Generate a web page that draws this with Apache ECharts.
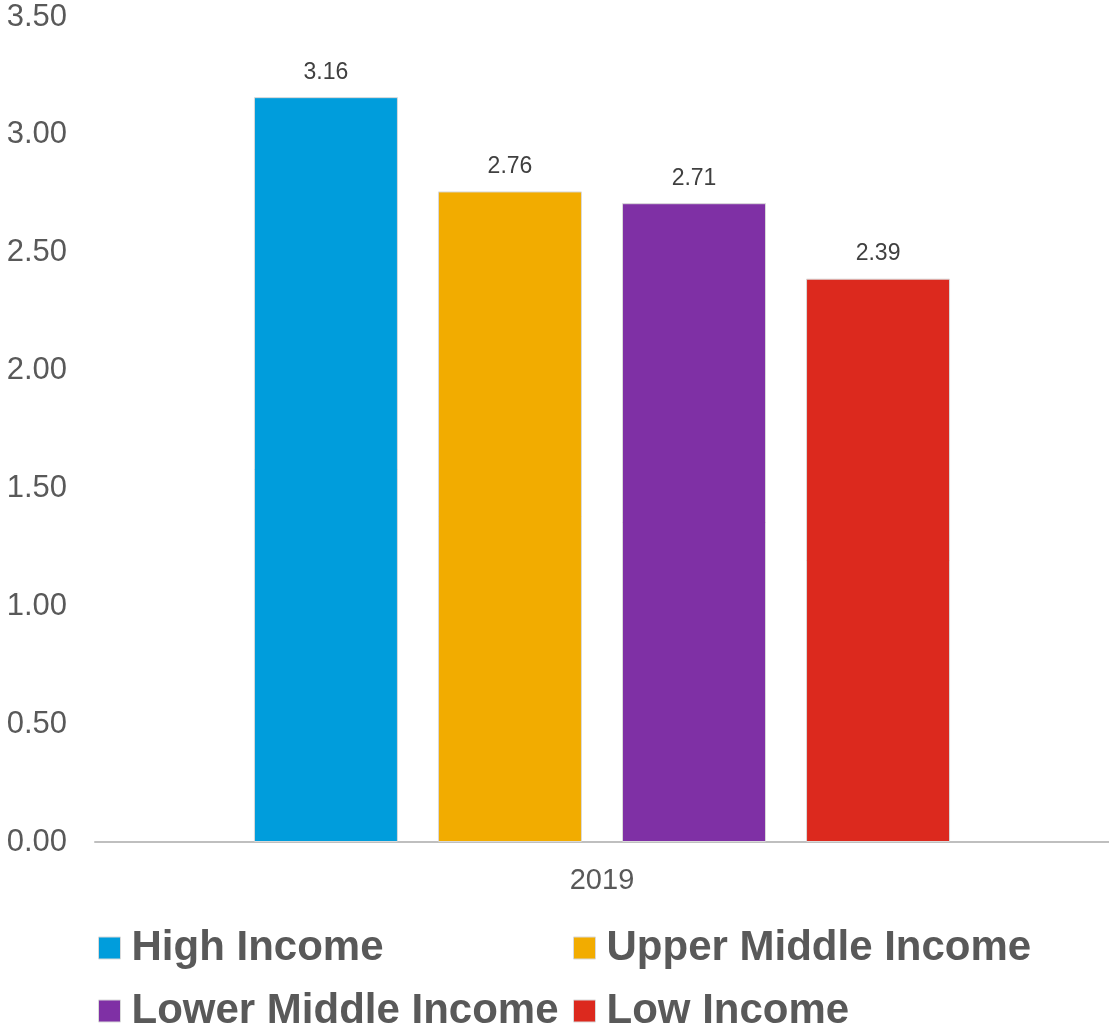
<!DOCTYPE html>
<html><head><meta charset="utf-8">
<script src="https://cdn.jsdelivr.net/npm/echarts@6/dist/echarts.min.js"></script>
<style>html,body{margin:0;padding:0;background:#fff}#c{width:1109px;height:1029px}</style>
</head><body><div id="c"></div>
<script>
const categories = ['2019'];
const seriesNames = ['High Income', 'Upper Middle Income', 'Lower Middle Income', 'Low Income'];
const highIncome = [3.16];
const upperMiddleIncome = [2.76];
const lowerMiddleIncome = [2.71];
const lowIncome = [2.39];
const yTicks = { min: 0, max: 3.5, interval: 0.5 };

const colors = ['#009ddc', '#f2ac00', '#7f30a5', '#dc291e'];
const values = [highIncome, upperMiddleIncome, lowerMiddleIncome, lowIncome];
const font = '"Liberation Sans", Arial, sans-serif';

const chart = echarts.init(document.getElementById('c'), null, {renderer: 'canvas'});
const legendPos = [[98, 927], [573, 927], [98, 990], [573, 990]];
chart.setOption({
  animation: false,
  color: colors,
  grid: { left: 95, right: 0, top: 17, bottom: 187, containLabel: false },
  legend: seriesNames.map((n, i) => ({
    data: [n], left: legendPos[i][0], top: legendPos[i][1], padding: 0,
    itemWidth: 22, itemHeight: 22, itemGap: 0, icon: 'rect',
    itemStyle: { borderColor: '#d9d9d9', borderWidth: 1 },
    textStyle: { fontFamily: font, fontSize: 42, fontWeight: 'bold', color: '#595959', lineHeight: 42, padding: [0, 0, 0, 6] }
  })),
  xAxis: {
    type: 'category', data: categories,
    axisLine: { lineStyle: { color: '#bfbfbf', width: 2 } },
    axisTick: { show: false },
    axisLabel: { fontFamily: font, fontSize: 29, color: '#595959', margin: 24 }
  },
  yAxis: {
    type: 'value', min: yTicks.min, max: yTicks.max, interval: yTicks.interval,
    axisLine: { show: false }, axisTick: { show: false }, splitLine: { show: false },
    axisLabel: { fontFamily: font, fontSize: 31, color: '#595959', margin: 28, padding: [5, 0, 0, 0],
      formatter: v => v.toFixed(2) }
  },
  series: seriesNames.map((n, i) => ({
    name: n, type: 'bar', data: values[i], barWidth: 144, barGap: '27.8%',
    itemStyle: { color: colors[i], borderColor: '#d9d9d9', borderWidth: 1 },
    label: { show: true, position: 'top', distance: 13, fontFamily: font, fontSize: 23, color: '#404040',
      formatter: p => p.value.toFixed(2) }
  }))
});
</script></body></html>
